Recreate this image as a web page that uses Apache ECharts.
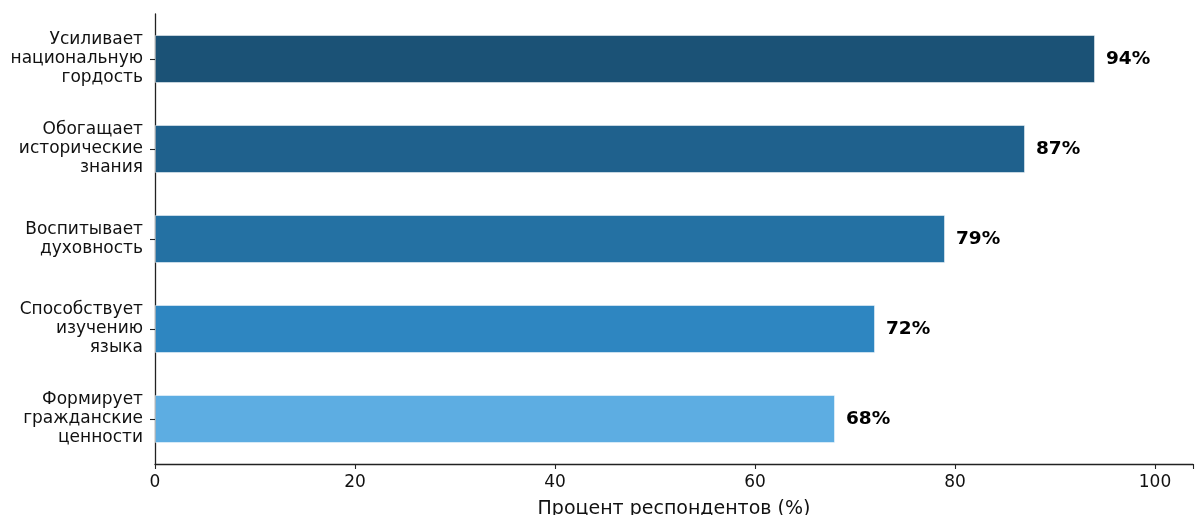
<!DOCTYPE html>
<html>
<head>
<meta charset="utf-8">
<script src="https://cdn.jsdelivr.net/npm/echarts@6/dist/echarts.min.js"></script>
<style>
html,body{margin:0;padding:0;background:#fff;}
#chart{width:1195px;height:515px;}
</style>
</head>
<body>
<div id="chart"></div>
<script>
const categories = ['Усиливает\nнациональную\nгордость', 'Обогащает\nисторические\nзнания', 'Воспитывает\nдуховность', 'Способствует\nизучению\nязыка', 'Формирует\nгражданские\nценности'];
const values = [94, 87, 79, 72, 68];
const barColors = ['#1b5276', '#1f618d', '#2471a3', '#2e86c1', '#5dade2'];
const xTicks = [0, 20, 40, 60, 80, 100];

const chart = echarts.init(document.getElementById('chart'));
const font = 'DejaVu Sans';
chart.setOption({
  animation: false,
  grid: {left: 155, right: 2, top: 14, bottom: 51, containLabel: false, outerBoundsMode: 'none'},
  xAxis: {
    type: 'value', min: 0, max: 103.8, interval: 20,
    name: 'Процент респондентов (%)', nameLocation: 'middle', nameGap: 36,
    nameTextStyle: {fontFamily: font, fontSize: 19, color: '#111'},
    axisLine: {show: true, lineStyle: {color: '#222', width: 1.3}},
    axisTick: {show: true, length: 5, lineStyle: {color: '#222', width: 1.1}},
    axisLabel: {fontFamily: font, fontSize: 17, color: '#111', margin: 10,
      formatter: v => xTicks.includes(v) ? String(v) : ''},
    splitLine: {show: false}
  },
  yAxis: {
    type: 'category', data: categories, inverse: true,
    axisLine: {show: true, lineStyle: {color: '#222', width: 1.3}},
    axisTick: {show: true, alignWithLabel: true, length: 5, lineStyle: {color: '#222', width: 1.1}},
    axisLabel: {fontFamily: font, fontSize: 17, color: '#111', lineHeight: 19, align: 'right', margin: 12,
      padding: [7, 0, 0, 0]}
  },
  series: [{
    type: 'bar',
    data: values.map((v, i) => ({value: v, itemStyle: {color: barColors[i]}})),
    barWidth: 48,
    itemStyle: {borderColor: 'rgba(255,255,255,0.5)', borderWidth: 1},
    label: {show: true, position: 'right', distance: 11, formatter: p => p.value + '%',
      fontFamily: font, fontSize: 18.5, fontWeight: 'bold', color: '#000'}
  }]
});
</script>
</body>
</html>
